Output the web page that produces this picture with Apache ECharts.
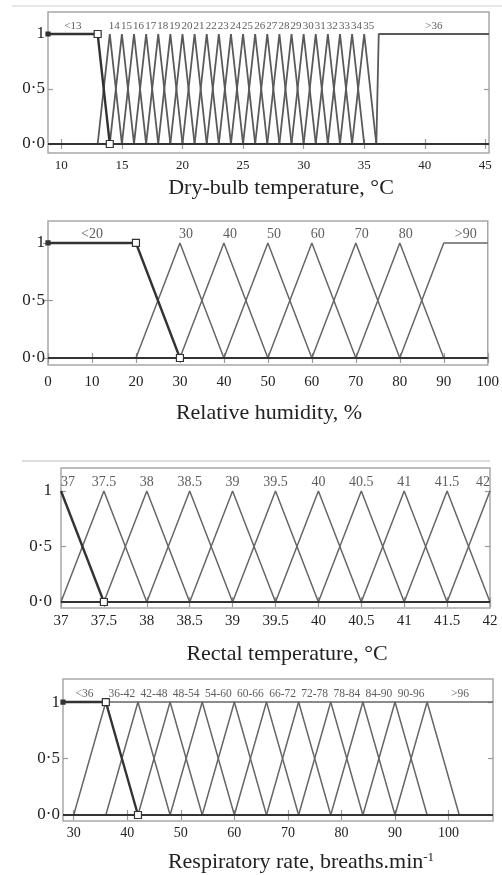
<!DOCTYPE html>
<html>
<head>
<meta charset="utf-8">
<script src="https://cdn.jsdelivr.net/npm/echarts@6/dist/echarts.min.js"></script>
<style>
  html, body { margin: 0; background: #fff; }
  #chart { width: 502px; height: 875px; }
</style>
</head>
<body>
<div id="chart"></div>
<script>
// membership functions as trapezoids [a, b, c, d]: 0 at a, 1 from b to c, 0 at d
const dryNames = ['<13', '14', '15', '16', '17', '18', '19', '20', '21', '22', '23', '24', '25',
  '26', '27', '28', '29', '30', '31', '32', '33', '34', '35', '>36'];
const dryMF = [
  [8.9, 8.9, 13, 14],
  [13, 14, 14, 15], [14, 15, 15, 16], [15, 16, 16, 17], [16, 17, 17, 18], [17, 18, 18, 19],
  [18, 19, 19, 20], [19, 20, 20, 21], [20, 21, 21, 22], [21, 22, 22, 23], [22, 23, 23, 24],
  [23, 24, 24, 25], [24, 25, 25, 26], [25, 26, 26, 27], [26, 27, 27, 28], [27, 28, 28, 29],
  [28, 29, 29, 30], [29, 30, 30, 31], [30, 31, 31, 32], [31, 32, 32, 33], [32, 33, 33, 34],
  [33, 34, 34, 35], [34, 35, 35, 36],
  [36, 36.2, 45.3, 45.3]
];
const dryTicks = [10, 15, 20, 25, 30, 35, 40, 45];

const humNames = ['<20', '30', '40', '50', '60', '70', '80', '>90'];
const humMF = [
  [0, 0, 20, 30], [20, 30, 30, 40], [30, 40, 40, 50], [40, 50, 50, 60],
  [50, 60, 60, 70], [60, 70, 70, 80], [70, 80, 80, 90], [80, 90, 100, 100]
];
const humTicks = [0, 10, 20, 30, 40, 50, 60, 70, 80, 90, 100];

const rectNames = ['37', '37.5', '38', '38.5', '39', '39.5', '40', '40.5', '41', '41.5', '42'];
const rectMF = [
  [37, 37, 37, 37.5], [37, 37.5, 37.5, 38], [37.5, 38, 38, 38.5], [38, 38.5, 38.5, 39],
  [38.5, 39, 39, 39.5], [39, 39.5, 39.5, 40], [39.5, 40, 40, 40.5], [40, 40.5, 40.5, 41],
  [40.5, 41, 41, 41.5], [41, 41.5, 41.5, 42], [41.5, 42, 42, 42]
];
const rectTicks = [37, 37.5, 38, 38.5, 39, 39.5, 40, 40.5, 41, 41.5, 42];

const respNames = ['<36', '36-42', '42-48', '48-54', '54-60', '60-66', '66-72', '72-78',
  '78-84', '84-90', '90-96', '>96'];
const respMF = [
  [28, 28, 36, 42], [30, 36, 42, 48], [36, 42, 48, 54], [42, 48, 54, 60],
  [48, 54, 60, 66], [54, 60, 66, 72], [60, 66, 72, 78], [66, 72, 78, 84],
  [72, 78, 84, 90], [78, 84, 90, 96], [84, 90, 96, 102], [90, 96, 108.3, 108.3]
];
const respTicks = [30, 40, 50, 60, 70, 80, 90, 100];

const yTicks = [0, 0.5, 1];
const yTickText = ['0·0', '0·5', '1'];

const FONT = 'Liberation Serif';

// layout of each panel
const panels = [
  { names: dryNames, mf: dryMF, ticks: dryTicks, xMin: 8.9, xMax: 45.3, yMin: -0.082, yMax: 1.2,
    grid: { left: 48, top: 12, width: 441, height: 141 }, title: 'Dry-bulb temperature, °C',
    titleX: 276, titleY: 172, tickFont: 13, tickGap: 6, yFont: 17, yGap: 3, topFont: 11,
    inner: 'left', lineW: 1.8, lineC: '#5a5a5a' },
  { names: humNames, mf: humMF, ticks: humTicks, xMin: 0, xMax: 100, yMin: -0.061, yMax: 1.191,
    grid: { left: 48, top: 221, width: 442, height: 144 }, title: 'Relative humidity, %',
    titleX: 264, titleY: 397, tickFont: 15, tickGap: 10, yFont: 17, yGap: 3, topFont: 14,
    inner: 'left', lineW: 1.5, lineC: '#666' },
  { names: rectNames, mf: rectMF, ticks: rectTicks, xMin: 37, xMax: 42, yMin: -0.054, yMax: 1.207,
    grid: { left: 61, top: 468, width: 429, height: 140 }, title: 'Rectal temperature, °C',
    titleX: 282, titleY: 638, tickFont: 15, tickGap: 6, yFont: 17, yGap: 9, topFont: 14,
    inner: 'center', lineW: 1.5, lineC: '#666' },
  { names: respNames, mf: respMF, ticks: respTicks, xMin: 28, xMax: 108.3, yMin: -0.053, yMax: 1.204,
    grid: { left: 63, top: 679, width: 430, height: 142 },
    title: 'Respiratory rate, breaths.min{sup|-1}',
    titleX: 296, titleY: 846, tickFont: 14, tickGap: 5, yFont: 17, yGap: 3, topFont: 11.5,
    inner: 'center', lineW: 1.5, lineC: '#666' }
];

function mfPoints(t) {
  const [a, b, c, d] = t;
  const pts = [];
  if (a < b) pts.push([a, 0]);
  pts.push([b, 1]);
  if (c > b) pts.push([c, 1]);
  if (d > c) pts.push([d, 0]);
  return pts;
}

const grid = [], xAxis = [], yAxis = [], series = [], title = [];

panels.forEach((p, i) => {
  grid.push(Object.assign({ show: true, borderColor: '#a8a8a8', borderWidth: 1.5, containLabel: false }, p.grid));

  const tick = { show: true, inside: true, length: 5, lineStyle: { color: '#9a9a9a', width: 1.2 } };
  xAxis.push({
    gridIndex: i, type: 'value', min: p.xMin, max: p.xMax,
    axisLine: { show: false }, splitLine: { show: false },
    axisTick: Object.assign({ customValues: p.ticks }, tick),
    axisLabel: { customValues: p.ticks, fontFamily: FONT, fontSize: p.tickFont, color: '#222', margin: p.tickGap }
  });
  xAxis.push({
    gridIndex: i, type: 'value', position: 'top', min: p.xMin, max: p.xMax,
    axisLine: { show: false }, splitLine: { show: false }, axisLabel: { show: false },
    axisTick: Object.assign({ customValues: p.ticks }, tick)
  });
  yAxis.push({
    gridIndex: i, type: 'value', min: p.yMin, max: p.yMax,
    axisLine: { show: false }, splitLine: { show: false },
    axisTick: Object.assign({ customValues: yTicks }, tick),
    axisLabel: {
      customValues: yTicks, fontFamily: FONT, fontSize: p.yFont, color: '#222', margin: p.yGap,
      formatter: v => yTickText[yTicks.indexOf(Math.round(v * 10) / 10)]
    }
  });
  yAxis.push({
    gridIndex: i, type: 'value', position: 'right', min: p.yMin, max: p.yMax,
    axisLine: { show: false }, splitLine: { show: false }, axisLabel: { show: false },
    axisTick: Object.assign({ customValues: yTicks }, tick)
  });

  const xi = i * 2, yi = i * 2;

  // zero line
  series.push({
    type: 'line', xAxisIndex: xi, yAxisIndex: yi, symbol: 'none', silent: true, z: 4,
    lineStyle: { color: '#333', width: 2.2 },
    data: [[p.xMin, 0], [p.xMax, 0]]
  });

  p.mf.forEach((t, k) => {
    const pts = mfPoints(t);
    if (k === 0) {
      const [a, b, c, d] = t;
      const data = pts.map(pt => {
        let sym = 'none', size = 0, fill = '#fff';
        if (pt[0] === a && a === b && b < c) { sym = 'rect'; size = 4; fill = '#333'; }
        else if ((pt[0] === c && pt[1] === 1 && c > b) || (pt[0] === d && pt[1] === 0)) { sym = 'rect'; size = 7; }
        return { value: pt, symbol: sym, symbolSize: size, itemStyle: { color: fill, borderColor: '#333', borderWidth: 1.2 } };
      });
      series.push({
        type: 'line', xAxisIndex: xi, yAxisIndex: yi, silent: true, z: 6, showAllSymbol: true,
        lineStyle: { color: '#333', width: 2.4 }, data
      });
    } else {
      series.push({
        type: 'line', xAxisIndex: xi, yAxisIndex: yi, symbol: 'none', silent: true, z: 3,
        lineStyle: { color: p.lineC, width: p.lineW }, data: pts
      });
    }
  });

  // term labels above the membership functions
  series.push({
    type: 'scatter', xAxisIndex: xi, yAxisIndex: yi, symbolSize: 0, silent: true, z: 7,
    label: { show: true, position: 'top', distance: 2, formatter: '{b}', fontFamily: FONT,
      fontSize: p.topFont, color: '#333' },
    data: p.mf.map((t, k) => {
      const [a, b, c, d] = t;
      let align = p.inner;
      if (b === c && a === b) align = 'left';
      else if (b === c && c === d) align = 'right';
      else if (b !== c) align = 'center';
      return { name: p.names[k], value: [(b + c) / 2, 1], label: { align, offset: align === 'left' && b === c && a !== b ? [-1, 0] : [0, 0] } };
    })
  });

  title.push({
    text: p.title, left: p.titleX, top: p.titleY, textAlign: 'center',
    textStyle: { fontFamily: FONT, fontSize: 22, fontWeight: 'normal', color: '#222',
      rich: { sup: { fontFamily: FONT, fontSize: 13, verticalAlign: 'top', padding: [0, 0, 10, 0], color: '#222' } } }
  });
});

const chart = echarts.init(document.getElementById('chart'));
chart.setOption({
  animation: false,
  backgroundColor: '#fff',
  title, grid, xAxis, yAxis, series,
  graphic: [
    { type: 'line', shape: { x1: 12, y1: 6, x2: 502, y2: 6 }, style: { stroke: '#cfcfcf', lineWidth: 1 } },
    { type: 'line', shape: { x1: 22, y1: 461, x2: 490, y2: 461 }, style: { stroke: '#bdbdbd', lineWidth: 1 } }
  ]
});
</script>
</body>
</html>
